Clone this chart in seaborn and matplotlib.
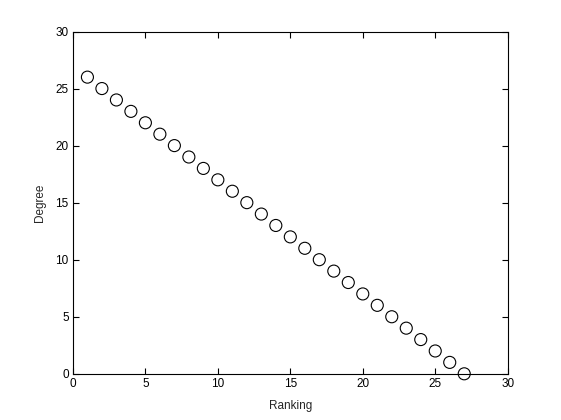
import pandas as pd
import matplotlib
matplotlib.use("Agg")
import matplotlib.pyplot as plt
import seaborn as sns

# data
ranking = [1, 2, 3, 4, 5, 6, 7, 8, 9, 10, 11, 12, 13, 14, 15, 16, 17, 18, 19,
           20, 21, 22, 23, 24, 25, 26, 27]
degree = [26, 25, 24, 23, 22, 21, 20, 19, 18, 17, 16, 15, 14, 13, 12, 11, 10,
          9, 8, 7, 6, 5, 4, 3, 2, 1, 0]

df = pd.DataFrame({"Ranking": ranking, "Degree": degree})

sns.set_theme(style="white")
plt.rcParams['font.family'] = ['Liberation Sans', 'DejaVu Sans']

fig = plt.figure(figsize=(5.61, 4.2), dpi=100)
ax = fig.add_axes([0.13, 0.11, 0.775, 0.815])

sns.scatterplot(data=df, x="Ranking", y="Degree", ax=ax, marker="o",
                s=75, facecolor="none", edgecolor="black", linewidth=0.8,
                clip_on=False)

ax.set_xlim(0, 30)
ax.set_ylim(0, 30)
ax.set_xticks(range(0, 31, 5))
ax.set_yticks(range(0, 31, 5))
ax.set_xlabel("Ranking", fontsize=8.5, labelpad=7)
ax.set_ylabel("Degree", fontsize=8.5, labelpad=7)
ax.tick_params(direction="in", length=4, width=0.8, labelsize=8.5,
               top=True, right=True, bottom=True, left=True, colors="black",
               pad=3)
for sp in ax.spines.values():
    sp.set_color("black")
    sp.set_linewidth(0.8)

fig.savefig("out.png", dpi=100, facecolor="white")
